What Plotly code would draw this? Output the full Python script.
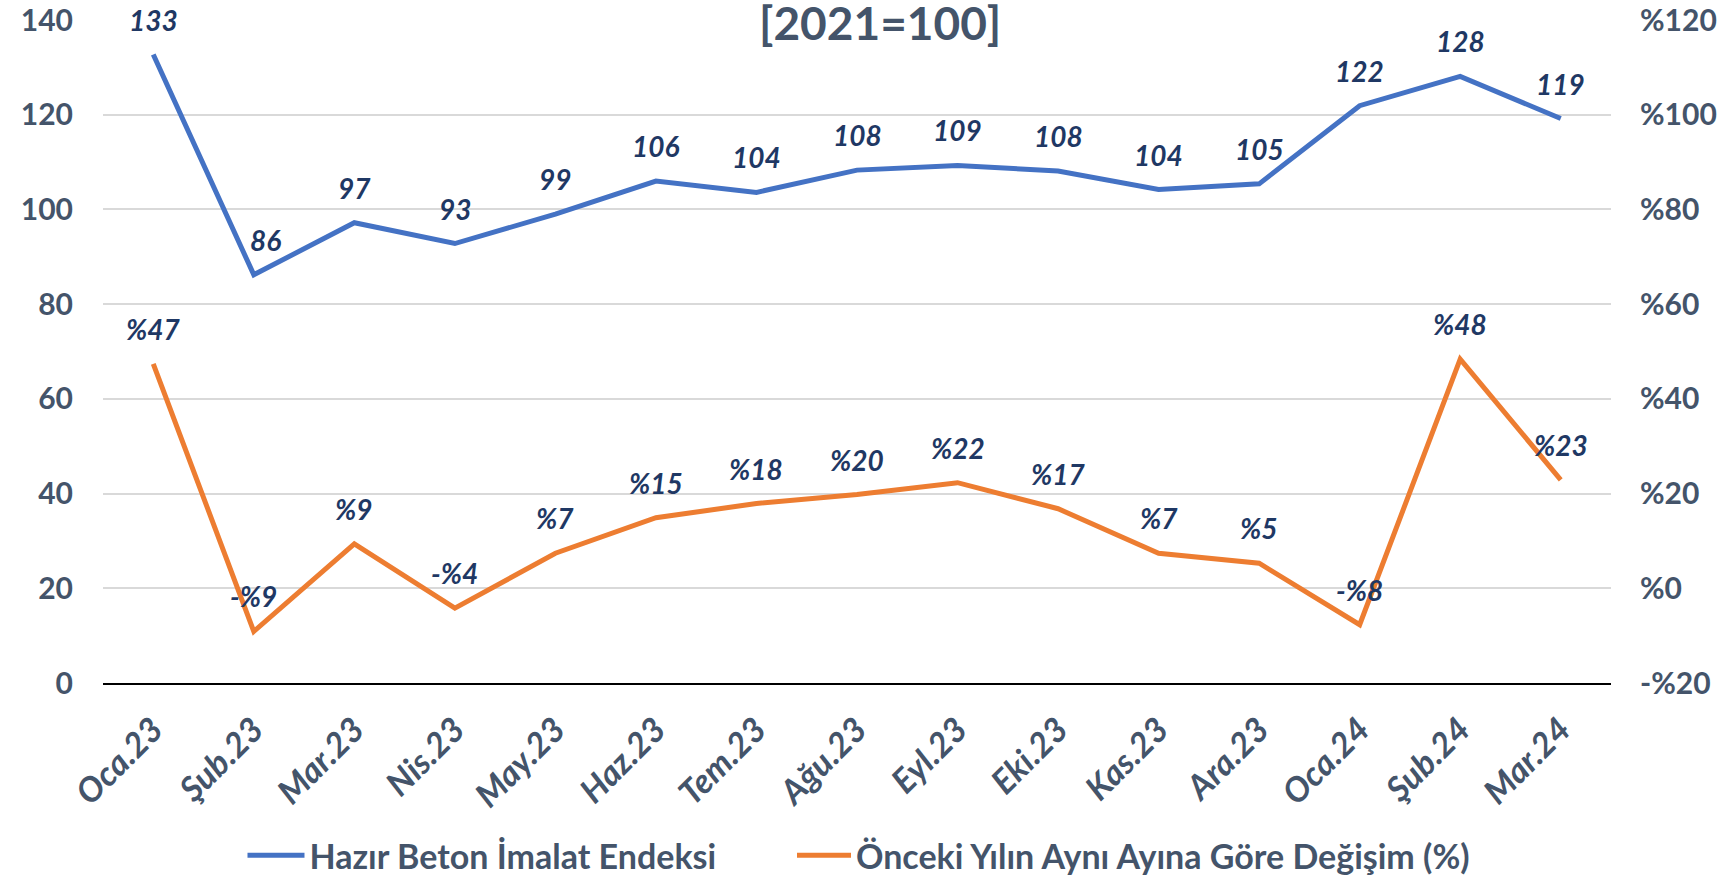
import plotly.graph_objects as go

categories = ["Oca.23", "Şub.23", "Mar.23", "Nis.23", "May.23", "Haz.23", "Tem.23",
              "Ağu.23", "Eyl.23", "Eki.23", "Kas.23", "Ara.23", "Oca.24", "Şub.24", "Mar.24"]
index_values = [132.7, 86.2, 97.2, 92.8, 99.0, 106.0, 103.6, 108.3, 109.3, 108.1,
                104.2, 105.4, 121.9, 128.1, 119.2]
yoy_change = [47.4, -9.1, 9.4, -4.2, 7.4, 14.9, 17.9, 19.8, 22.3, 16.8, 7.4, 5.3,
              -7.7, 48.4, 22.9]
left_ticks = [0, 20, 40, 60, 80, 100, 120, 140]
right_ticks = [-20, 0, 20, 40, 60, 80, 100, 120]
right_tick_labels = ["-%20", "%0", "%20", "%40", "%60", "%80", "%100", "%120"]
series_names = ["Hazır Beton İmalat Endeksi", "Önceki Yılın Aynı Ayına Göre Değişim (%)"]
title_text = "[2021=100]"

FONT = "Lato, 'Open Sans', sans-serif"
AXIS_COLOR = "#44546A"
LABEL_COLOR = "#1F3864"
BLUE = "#4472C4"
ORANGE = "#ED7D31"


def pct_label(v):
    r = round(v)
    return f"-%{abs(r)}" if r < 0 else f"%{r}"


fig = go.Figure()
fig.add_trace(go.Scatter(x=categories, y=index_values, mode="lines", name=series_names[0],
                         line=dict(color=BLUE, width=5), yaxis="y", legend="legend"))
fig.add_trace(go.Scatter(x=categories, y=yoy_change, mode="lines", name=series_names[1],
                         line=dict(color=ORANGE, width=5), yaxis="y2", legend="legend2"))

label_font = dict(family=FONT, size=28, color=LABEL_COLOR, weight="bold", style="italic")
annotations = []
for c, v in zip(categories, index_values):
    annotations.append(dict(x=c, y=v, xref="x", yref="y", text=str(round(v)), showarrow=False,
                            yshift=35, xshift=12 if c == "Şub.23" else 0, font=label_font))
for c, v in zip(categories, yoy_change):
    annotations.append(dict(x=c, y=v, xref="x", yref="y2", text=pct_label(v), showarrow=False,
                            yshift=35, font=label_font))
annotations.append(dict(x=0.5155, y=1, xref="paper", yref="paper", text=title_text,
                        showarrow=False, yanchor="middle", yshift=-2,
                        font=dict(family=FONT, size=46, color=AXIS_COLOR, weight="bold")))

tick_font = dict(family=FONT, size=30, color=AXIS_COLOR, weight="bold")
legend_font = dict(family=FONT, size=34, color=AXIS_COLOR, weight="bold")

fig.update_layout(
    width=1728, height=879,
    margin=dict(l=103, r=117, t=20, b=196, autoexpand=False),
    paper_bgcolor="white", plot_bgcolor="white",
    showlegend=True,
    legend=dict(orientation="h", x=0.0925, xanchor="left", y=-0.2605, yanchor="middle",
                font=legend_font, itemwidth=57, bgcolor="rgba(0,0,0,0)"),
    legend2=dict(orientation="h", x=0.4569, xanchor="left", y=-0.2605, yanchor="middle",
                 font=legend_font, itemwidth=54, bgcolor="rgba(0,0,0,0)"),
    xaxis=dict(type="category", tickangle=-45, showgrid=False, showline=True,
               linecolor="black", linewidth=2, ticks="", zeroline=False,
               tickfont=dict(family=FONT, size=34, color=AXIS_COLOR, weight="bold", style="italic"),
               ticklabelstandoff=11,
               range=[-0.5, len(categories) - 0.5]),
    yaxis=dict(range=[0, 140], tickvals=left_ticks, showgrid=True, gridcolor="#D9D9D9",
               gridwidth=1.5, zeroline=False, showline=False, ticks="",
               tickfont=tick_font, ticklabelstandoff=29, ticklabeloverflow="allow"),
    yaxis2=dict(range=[-20, 120], tickvals=right_ticks, ticktext=right_tick_labels,
                overlaying="y", side="right", showgrid=False, zeroline=False, showline=False,
                ticks="", tickfont=tick_font, ticklabelstandoff=28, ticklabeloverflow="allow"),
    annotations=annotations,
)

fig.write_html("out.html", config={"displayModeBar": False},
               post_script="document.body.style.margin='0';")
